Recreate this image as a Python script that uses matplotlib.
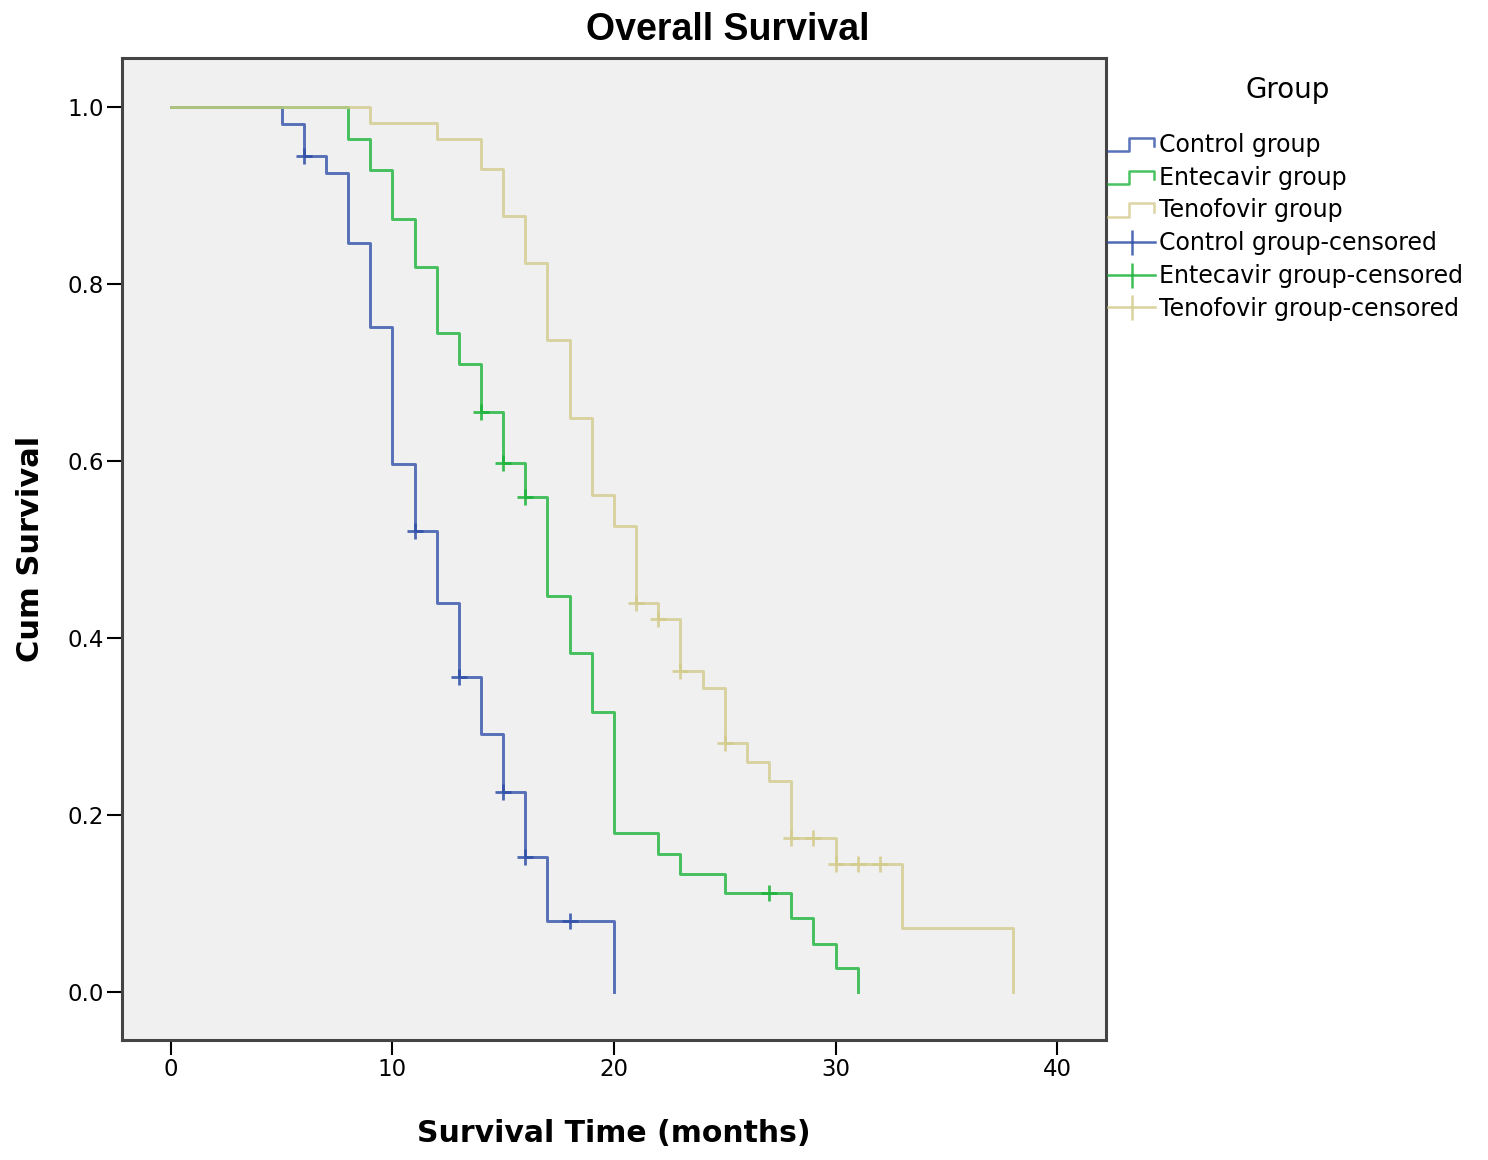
import numpy as np
import matplotlib
matplotlib.use('Agg')
import matplotlib.pyplot as plt
from matplotlib.lines import Line2D
from matplotlib.legend_handler import HandlerBase

plt.rcParams['font.family'] = ['DejaVu Sans']

# step times (months) and survival after each step
control_t = [0, 5, 6, 7, 8, 9, 10, 11, 12, 13, 14, 15, 16, 17, 20]
control_s = [1.0, 0.981, 0.944, 0.925, 0.846, 0.751, 0.597, 0.521, 0.439, 0.356,
             0.292, 0.226, 0.153, 0.080, 0.0]
control_cens = [6, 11, 13, 15, 16, 18]

entecavir_t = [0, 8, 9, 10, 11, 12, 13, 14, 15, 16, 17, 18, 19, 20, 22, 23, 25, 28, 29, 30, 31]
entecavir_s = [1.0, 0.963, 0.928, 0.873, 0.819, 0.745, 0.709, 0.655, 0.598, 0.559,
               0.448, 0.383, 0.316, 0.180, 0.156, 0.134, 0.112, 0.084, 0.055, 0.027, 0.0]
entecavir_cens = [14, 15, 16, 27]

tenofovir_t = [0, 9, 12, 14, 15, 16, 17, 18, 19, 20, 21, 22, 23, 24, 25, 26, 27, 28, 30, 33, 38]
tenofovir_s = [1.0, 0.982, 0.964, 0.930, 0.877, 0.824, 0.737, 0.649, 0.561, 0.527,
               0.439, 0.421, 0.363, 0.343, 0.282, 0.260, 0.239, 0.174, 0.145, 0.072, 0.0]
tenofovir_cens = [21, 22, 23, 25, 28, 29, 30, 31, 32]

group_names = ['Control group', 'Entecavir group', 'Tenofovir group']
group_colors = ['#2f4fa8', '#1bb339', '#d3cb8c']


class StepHandler(HandlerBase):
    # small step glyph like the SPSS legend
    def create_artists(self, legend, orig_handle, xdescent, ydescent,
                       width, height, fontsize, trans):
        x0 = -xdescent
        xs = [x0, x0 + 0.45 * width, x0 + 0.45 * width, x0 + 0.97 * width, x0 + 0.97 * width]
        y0 = -ydescent
        ys = [y0 + 0.05 * height, y0 + 0.05 * height, y0 + 0.85 * height,
              y0 + 0.85 * height, y0 + 0.35 * height]
        ln = Line2D(xs, ys, color=orig_handle.get_color(), lw=1.8,
                    alpha=orig_handle.get_alpha())
        ln.set_transform(trans)
        return [ln]


fig = plt.figure(figsize=(14.88, 11.6), dpi=100)
ax = fig.add_axes([0.0818, 0.1034, 0.6615, 0.8466])
ax.set_facecolor('#f0f0f0')

series = [(control_t, control_s, control_cens),
          (entecavir_t, entecavir_s, entecavir_cens),
          (tenofovir_t, tenofovir_s, tenofovir_cens)]

step_lines = []
cens_handles = []
for (t, s, cens), name, col in zip(series, group_names, group_colors):
    ln, = ax.step(t, s, where='post', color=col, lw=2.1, alpha=0.8, label=name)
    step_lines.append(ln)
    idx = np.searchsorted(t, cens, side='right') - 1
    ax.plot(cens, np.array(s)[idx], ls='none', marker='+', ms=12, mew=2,
            color=col, alpha=0.85)
    cens_handles.append(Line2D([], [], color=col, lw=1.8, marker='|', ms=18, mew=1.8,
                               alpha=0.85))

ax.set_xlim(-2.21, 42.2)
ax.set_ylim(-0.054, 1.055)
ax.set_xticks([0, 10, 20, 30, 40])
ax.set_yticks([0.0, 0.2, 0.4, 0.6, 0.8, 1.0])
ax.set_yticklabels(['0.0', '0.2', '0.4', '0.6', '0.8', '1.0'])
ax.tick_params(direction='out', length=11, width=1.5, labelsize=16.5, pad=2,
               colors='black')
for sp in ax.spines.values():
    sp.set_color('#444444')
    sp.set_linewidth(2.2)

fig.text(728 / 1488, 1 - 30 / 1160, 'Overall Survival', fontsize=27, fontweight='bold',
         family='Liberation Sans', ha='center', va='center')
ax.set_xlabel('Survival Time (months)', fontsize=21.5, fontweight='bold', labelpad=27)
ax.set_ylabel('Cum Survival', fontsize=22, fontweight='bold', labelpad=16)

handles = step_lines + cens_handles
labels = group_names + [n + '-censored' for n in group_names]
hmap = {h: StepHandler() for h in step_lines}
fig.text(1288 / 1488, 1 - 90 / 1160, 'Group', fontsize=20, ha='center', va='center')
leg = fig.legend(handles, labels, handler_map=hmap, loc='upper left',
                 bbox_to_anchor=(1108 / 1488, 1 - 133 / 1160), frameon=False,
                 fontsize=17, handlelength=2.0, handletextpad=0.15, labelspacing=0.37,
                 borderpad=0, borderaxespad=0, numpoints=1)

fig.savefig('out.png', dpi=100, facecolor='white')
